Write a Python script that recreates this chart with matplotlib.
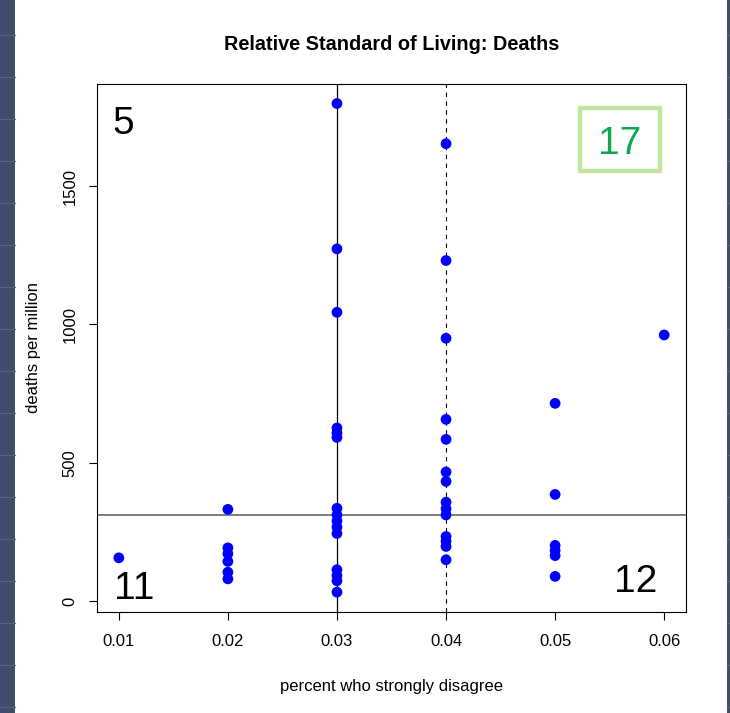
import matplotlib
matplotlib.use("Agg")
import matplotlib.pyplot as plt
from matplotlib.patches import Rectangle

# --------------------------------------------------------------------
# Data: deaths per million vs percent who strongly disagree
# --------------------------------------------------------------------
x_001 = [0.01]
y_001 = [157]

x_002 = [0.02] * 6
y_002 = [332, 193, 172, 144, 105, 81]

x_003 = [0.03] * 15
y_003 = [1798, 1273, 1044, 626, 608, 592, 336, 312, 290, 268, 245, 114, 93, 74, 33]

x_004 = [0.04] * 14
y_004 = [1653, 1231, 950, 657, 585, 467, 433, 358, 334, 312, 234, 217, 198, 150]

x_005 = [0.05] * 6
y_005 = [715, 386, 202, 184, 165, 90]

x_006 = [0.06]
y_006 = [962]

X_TICKS = [0.01, 0.02, 0.03, 0.04, 0.05, 0.06]
Y_TICKS = [0, 500, 1000, 1500]

MEDIAN_X = 0.03    # solid vertical line
MEAN_X = 0.04      # dashed vertical line
Y_CUT = 311        # horizontal line

# quadrant counts (upper-left, lower-left, lower-right, upper-right)
Q_UL, Q_LL, Q_LR, Q_UR = "5", "11", "12", "17"

xs = x_001 + x_002 + x_003 + x_004 + x_005 + x_006
ys = y_001 + y_002 + y_003 + y_004 + y_005 + y_006

FONT = "Liberation Sans"
plt.rcParams["font.family"] = [FONT, "DejaVu Sans"]

W, H = 730, 713
fig = plt.figure(figsize=(W / 100, H / 100), dpi=100)

# window chrome on both sides
DARK = "#3e4d6b"
for x0, w in [(0, 15), (727, 3)]:
    fig.patches.append(Rectangle((x0 / W, 0), w / W, 1, transform=fig.transFigure,
                                 facecolor=DARK, edgecolor="none", zorder=-5))
    for yy in range(35, H, 42):
        fig.add_artist(plt.Line2D([x0 / W, (x0 + w) / W], [1 - yy / H, 1 - yy / H],
                                  transform=fig.transFigure, color="#566585", lw=0.8))

L, R, T, B = 97, 686, 84, 611.7
ax = fig.add_axes([L / W, 1 - B / H, (R - L) / W, (B - T) / H])

# R-style 4% axis expansion
def r_lims(v):
    lo, hi = min(v), max(v)
    d = (hi - lo) * 0.04
    return lo - d, hi + d

ax.set_xlim(*r_lims(xs))
ax.set_ylim(*r_lims(ys))

ax.axvline(MEDIAN_X, color="black", lw=0.9, zorder=1)
ax.axvline(MEAN_X, color="black", lw=0.8, linestyle=(0, (4, 4)), zorder=1)
ax.axhline(Y_CUT, color="#5a5a5a", lw=1.1, zorder=1)

ax.scatter(xs, ys, s=60, color="#0000ff", edgecolors="none", zorder=3)

ax.set_xticks(X_TICKS)
ax.set_xticklabels([f"{t:.2f}" for t in X_TICKS])
ax.set_yticks(Y_TICKS)
ax.set_yticklabels([str(t) for t in Y_TICKS])
ax.tick_params(axis="both", direction="out", length=5.8, width=0.8,
               labelsize=12, colors="black")
ax.tick_params(axis="x", pad=10.5)
ax.tick_params(axis="y", pad=8, labelrotation=90)
plt.setp(ax.get_yticklabels(), va="center")
for s in ax.spines.values():
    s.set_linewidth(0.8)
    s.set_color("black")

ax.set_xlabel("percent who strongly disagree", fontsize=12)
ax.set_ylabel("deaths per million", fontsize=12)
ax.xaxis.set_label_coords(0.5, -(686 - B) / (B - T), transform=ax.transAxes)
ax.yaxis.set_label_coords(-(L - 34) / (R - L), 0.5, transform=ax.transAxes)
ax.xaxis.label.set_va("center")
ax.yaxis.label.set_va("center")

fig.text((L + R) / 2 / W, 1 - 44 / H, "Relative Standard of Living: Deaths",
         ha="center", va="center", fontsize=14.3, fontweight="bold")

# quadrant counts
ax.text(0.045, 0.906, Q_UL, transform=ax.transAxes, ha="center", va="baseline",
        fontsize=28)
ax.text(0.0628, 0.0235, Q_LL, transform=ax.transAxes, ha="center", va="baseline",
        fontsize=28)
ax.text(0.915, 0.0373, Q_LR, transform=ax.transAxes, ha="center", va="baseline",
        fontsize=28)
ax.text(0.888, 0.867, Q_UR, transform=ax.transAxes, ha="center", va="baseline",
        fontsize=28, color="#0fa84f")
bx0, bx1 = (580.3 - L) / (R - L), (659.7 - L) / (R - L)
by0, by1 = (B - 171) / (B - T), (B - 108) / (B - T)
ax.add_patch(Rectangle((bx0, by0), bx1 - bx0, by1 - by0, transform=ax.transAxes,
                       facecolor="none", edgecolor="#bfe5a0", lw=3.2,
                       joinstyle="round", zorder=4))

fig.savefig("out.png", dpi=100)
